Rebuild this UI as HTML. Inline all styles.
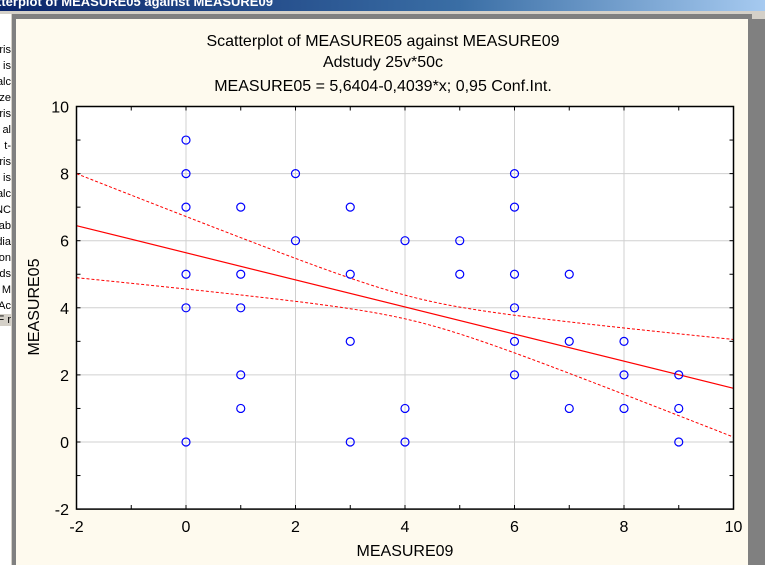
<!DOCTYPE html>
<html><head><meta charset="utf-8"><style>
body{margin:0;width:765px;height:565px;overflow:hidden;background:#d4d0c8;font-family:"Liberation Sans",Arial,sans-serif;position:relative}
#tb{position:absolute;left:0;top:0;width:765px;height:11px;background:linear-gradient(90deg,#0a246a,#3a6ea5 60%,#a6caf0);overflow:hidden}
#tb span{position:absolute;left:-3px;top:-6px;color:#fff;font-weight:bold;font-size:13px;white-space:nowrap}
#lp{position:absolute;left:0;top:14px;width:11px;height:551px;background:#fff;overflow:hidden}
#lp div{position:absolute;right:0;font-size:11px;white-space:nowrap;color:#000}
#frame{position:absolute;left:12px;top:14px;width:740px;height:551px;background:#808080}
#cream{position:absolute;left:16px;top:19px;width:732px;height:546px;background:#fefaee}
#rg{position:absolute;left:748px;top:19px;width:17px;height:546px;background:#808080}
</style></head><body>
<div id="tb"><span>tterplot of MEASURE05 against MEASURE09</span></div>
<div id="lp">
<div style="top:30px">ris</div><div style="top:46px">is</div><div style="top:62px">alc</div><div style="top:78px">ze</div><div style="top:94px">ris</div><div style="top:110px">al</div><div style="top:126px">t-</div><div style="top:142px">ris</div><div style="top:158px">is</div><div style="top:174px">alc</div><div style="top:190px">NC</div><div style="top:206px">ab</div><div style="top:222px">dia</div><div style="top:238px">on</div><div style="top:254px">ds</div><div style="top:270px">M</div><div style="top:286px">Ac</div><div style="top:300px;background:#d4d0c8">F r</div>
</div>
<div id="frame"></div>
<div id="cream"></div>
<div id="rg"></div>
<svg id="s" width="765" height="565" style="position:absolute;left:0;top:0" xmlns="http://www.w3.org/2000/svg" font-family="Liberation Sans, Arial, sans-serif">
<text x="383" y="46" font-size="16" text-anchor="middle">Scatterplot of MEASURE05 against MEASURE09</text>
<text x="383" y="67" font-size="16" text-anchor="middle">Adstudy 25v*50c</text>
<text x="383" y="91" font-size="16" text-anchor="middle">MEASURE05 = 5,6404-0,4039*x; 0,95 Conf.Int.</text>
<text x="405" y="556" font-size="16" text-anchor="middle">MEASURE09</text>
<text transform="translate(39,307) rotate(-90)" font-size="16" text-anchor="middle">MEASURE05</text>
<g id="g"></g>
</svg>
<script>
var g=document.getElementById('g'),h='';
function X(v){return 76.5+(v+2)*54.75}function Y(v){return 442-v*33.55}
h+='<rect x="76.5" y="106.5" width="657" height="402.6" fill="#fff"/>';
for(var v=0;v<=8;v+=2){h+='<line x1="'+X(v)+'" x2="'+X(v)+'" y1="106.5" y2="509" stroke="#d0d0d0"/>';}
for(var v=0;v<=8;v+=2){h+='<line y1="'+Y(v)+'" y2="'+Y(v)+'" x1="76.5" x2="733.5" stroke="#d0d0d0"/>';}
for(var v=-2;v<=10;v++){h+='<line x1="'+X(v)+'" x2="'+X(v)+'" y1="509" y2="505" stroke="#000"/><line x1="'+X(v)+'" x2="'+X(v)+'" y1="106.5" y2="110.5" stroke="#000"/>';
h+='<line y1="'+Y(v)+'" y2="'+Y(v)+'" x1="76.5" x2="80.5" stroke="#000"/><line y1="'+Y(v)+'" y2="'+Y(v)+'" x1="733.5" x2="729.5" stroke="#000"/>';}
for(var v=-2;v<=10;v+=2){h+='<text x="'+X(v)+'" y="532" font-size="16" text-anchor="middle">'+v+'</text>';h+='<text x="69" y="'+(Y(v)+6)+'" font-size="16" text-anchor="end">'+v+'</text>';}
var f=function(x){return 5.6404-0.4039*x},hw=function(x){return Math.sqrt(0.1225+0.0593*(x-4.2)*(x-4.2))};
var pu='',pl='';for(var x=-2;x<=10.001;x+=0.1){pu+=X(x)+','+Y(f(x)+hw(x))+' ';pl+=X(x)+','+Y(f(x)-hw(x))+' ';}
h+='<polyline points="'+pu+'" fill="none" stroke="#f00" stroke-dasharray="3,2"/><polyline points="'+pl+'" fill="none" stroke="#f00" stroke-dasharray="3,2"/>';
h+='<line x1="'+X(-2)+'" y1="'+Y(f(-2))+'" x2="'+X(10)+'" y2="'+Y(f(10))+'" stroke="#f00" stroke-width="1.2"/>';
var d={0:[9,8,7,5,4,0],1:[7,5,4,2,1],2:[8,6],3:[7,5,3,0],4:[6,1,0],5:[6,5],6:[8,7,5,4,3,2],7:[5,3,1],8:[3,2,1],9:[2,1,0]};
for(var k in d)d[k].forEach(function(y){h+='<circle cx="'+X(+k)+'" cy="'+Y(y)+'" r="4" fill="none" stroke="#00f" stroke-width="1.2"/>';});
h+='<rect x="76.5" y="106.5" width="657" height="402.6" fill="none" stroke="#000" stroke-width="1.5"/>';
g.innerHTML=h;
</script>
</body></html>
